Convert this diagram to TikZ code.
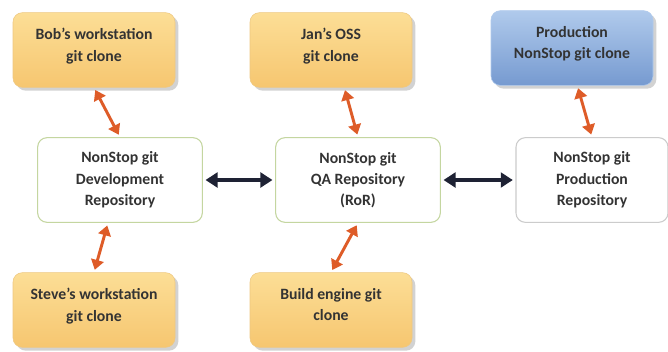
\documentclass[tikz,border=0pt]{standalone}
\usepackage{fontspec}
\setmainfont{Carlito}
\usetikzlibrary{shadows,arrows.meta}
\colorlet{clone top}{rgb,255:red,252;green,222;blue,150}
\colorlet{clone bottom}{rgb,255:red,246;green,198;blue,112}
\colorlet{clone edge}{rgb,255:red,238;green,200;blue,130}
\colorlet{prod top}{rgb,255:red,176;green,202;blue,236}
\colorlet{prod bottom}{rgb,255:red,118;green,154;blue,208}
\colorlet{repo edge}{rgb,255:red,196;green,214;blue,160}
\colorlet{sync color}{rgb,255:red,222;green,92;blue,40}
\colorlet{link color}{rgb,255:red,30;green,34;blue,52}
\tikzset{
  box/.style={rounded corners=7pt, align=center,
    font=\bfseries\fontsize{11.8}{16}\selectfont, text=black!80, inner sep=2pt},
  clone/.style={box, draw=clone edge, top color=clone top, bottom color=clone bottom,
    minimum width=121.5pt, minimum height=56pt, text depth=8pt,
    drop shadow={opacity=0.35, shadow xshift=2.5pt, shadow yshift=-2.5pt}},
  prodclone/.style={clone, draw=prod top, top color=prod top, bottom color=prod bottom},
  repo/.style={box, draw=repo edge, thick, fill=white,
    minimum width=123.5pt, minimum height=63.5pt},
  sync/.style={draw=sync color, line width=2.2pt,
    {Triangle[width=9.5pt,length=7.5pt]}-{Triangle[width=9.5pt,length=7.5pt]},
    shorten <=2pt, shorten >=2pt},
  link/.style={draw=link color, line width=2.6pt,
    {Triangle[width=11pt,length=9pt]}-{Triangle[width=11pt,length=9pt]},
    shorten <=2pt, shorten >=2pt}
}
\begin{document}
\begin{tikzpicture}[x=0.75pt,y=-0.75pt]
  \useasboundingbox (0,0) rectangle (668,351);
  \fill[white] (0,0) rectangle (668,351);

  % clones
  \node[clone] (bob) at (94,50) {Bob's workstation\\git clone};
  \node[clone] (jan) at (331,50) {Jan's OSS\\git clone};
  \node[prodclone] (prodclone) at (572,48) {Production\\NonStop git clone};
  \node[clone] (steve) at (94,310) {Steve's workstation\\git clone};
  \node[clone] (build) at (331,310) {Build engine git\\clone};

  % repositories
  \node[repo] (dev) at (120,180) {NonStop git\\Development\\Repository};
  \node[repo] (qa) at (358,180) {NonStop git\\QA Repository\\(RoR)};
  \node[repo, draw=black!20, minimum width=114pt] (prodrepo) at (592,180)
    {NonStop git\\Production\\Repository};

  \path[sync] (bob.south) -- (dev.north);
  \path[sync] ([xshift=10pt]jan.south) -- (qa.north);
  \path[sync] ([xshift=4pt]prodclone.south) -- (prodrepo.north);
  \path[sync] ([xshift=-9pt]dev.south) -- (steve.north);
  \path[sync] (qa.south) -- (build.north);

  \path[link] (dev.east) -- (qa.west);
  \path[link] (qa.east) -- (prodrepo.west);
\end{tikzpicture}
\end{document}
